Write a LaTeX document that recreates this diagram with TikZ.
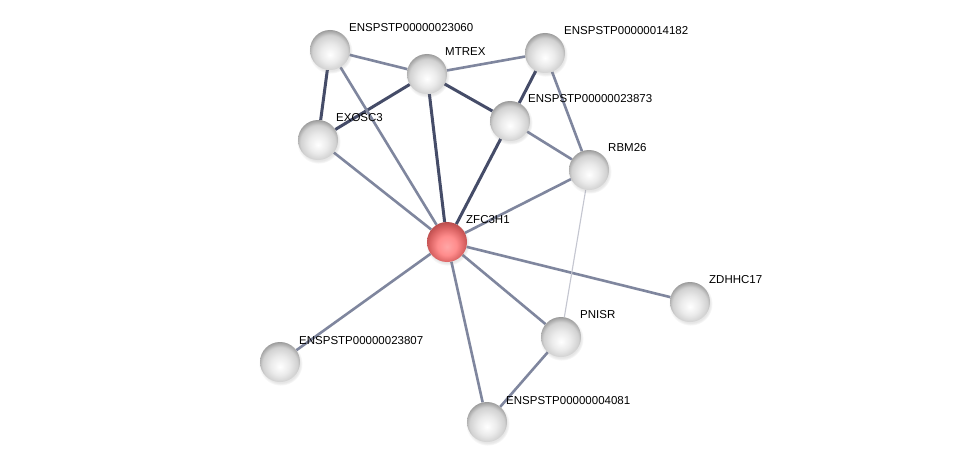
\documentclass[tikz,border=0pt]{standalone}
\usepackage{fontspec}
\setmainfont{Liberation Sans}
\usetikzlibrary{backgrounds,shadows}

\definecolor{edgedark}{HTML}{454C68}
\definecolor{edgemid}{HTML}{7F869E}
\definecolor{edgelight}{HTML}{C4C6D0}

\pgfdeclareradialshading{greyball}{\pgfpoint{0bp}{-6bp}}{color(0bp)=(white); color(12bp)=(black!8); color(22bp)=(black!18); color(28bp)=(black!40); color(31bp)=(black!55); color(50bp)=(black!55)}
\pgfdeclareradialshading{redball}{\pgfpoint{0bp}{-6bp}}{color(0bp)=(red!35!white); color(12bp)=(red!45!white); color(22bp)=(red!55!white!85!black); color(28bp)=(red!60!black!70!white); color(31bp)=(red!50!black); color(50bp)=(red!50!black)}

\tikzset{
  protein/.style={circle, minimum size=40pt, inner sep=0pt, shading=greyball,
    circular drop shadow={shadow xshift=0.6pt, shadow yshift=-1.6pt, opacity=0.2}},
  query/.style={protein, shading=redball},
  plabel/.style={anchor=west, font=\fontsize{11.5}{13}\selectfont, inner sep=1pt},
  strong/.style={draw=edgedark, line width=3pt},
  medium/.style={draw=edgemid, line width=2.6pt},
  weak/.style={draw=edgelight, line width=1.1pt}
}

\begin{document}
\begin{tikzpicture}[x=1pt,y=-1pt]
\useasboundingbox (0,0) rectangle (976,468);

% proteins
\node[protein] (p23060) at (330,50) {};
\node[protein] (mtrex) at (427,74) {};
\node[protein] (p14182) at (545,53) {};
\node[protein] (exosc3) at (318,140) {};
\node[protein] (p23873) at (510,121) {};
\node[protein] (rbm26) at (589,170) {};
\node[query] (zfc3h1) at (447,242) {};
\node[protein] (zdhhc17) at (690,302) {};
\node[protein] (pnisr) at (561,337) {};
\node[protein] (p23807) at (280,362) {};
\node[protein] (p4081) at (487,422) {};

% labels
\node[plabel] at (348,28) {ENSPSTP00000023060};
\node[plabel] at (444,52) {MTREX};
\node[plabel] at (563,31) {ENSPSTP00000014182};
\node[plabel] at (335,118) {EXOSC3};
\node[plabel] at (527,99) {ENSPSTP00000023873};
\node[plabel] at (607,148) {RBM26};
\node[plabel] at (465,220) {ZFC3H1};
\node[plabel] at (708,280) {ZDHHC17};
\node[plabel] at (579,315) {PNISR};
\node[plabel] at (298,341) {ENSPSTP00000023807};
\node[plabel] at (505,401) {ENSPSTP00000004081};

% edges
\begin{pgfonlayer}{background}
\fill[white] (0,0) rectangle (976,468);
\draw[strong] (p23060) -- (exosc3);
\draw[strong] (mtrex) -- (p23873);
\draw[strong] (mtrex) -- (zfc3h1);
\draw[strong] (p14182) -- (p23873);
\draw[strong] (p23873) -- (zfc3h1);
\draw[strong] (mtrex) -- (exosc3);
\draw[medium] (p23060) -- (mtrex);
\draw[medium] (p23060) -- (zfc3h1);
\draw[medium] (mtrex) -- (p14182);
\draw[medium] (p14182) -- (rbm26);
\draw[medium] (p23873) -- (rbm26);
\draw[medium] (exosc3) -- (zfc3h1);
\draw[medium] (rbm26) -- (zfc3h1);
\draw[medium] (zfc3h1) -- (zdhhc17);
\draw[medium] (zfc3h1) -- (pnisr);
\draw[medium] (zfc3h1) -- (p23807);
\draw[medium] (zfc3h1) -- (p4081);
\draw[medium] (pnisr) -- (p4081);
\draw[weak] (rbm26) -- (pnisr);
\end{pgfonlayer}
\end{tikzpicture}
\end{document}
